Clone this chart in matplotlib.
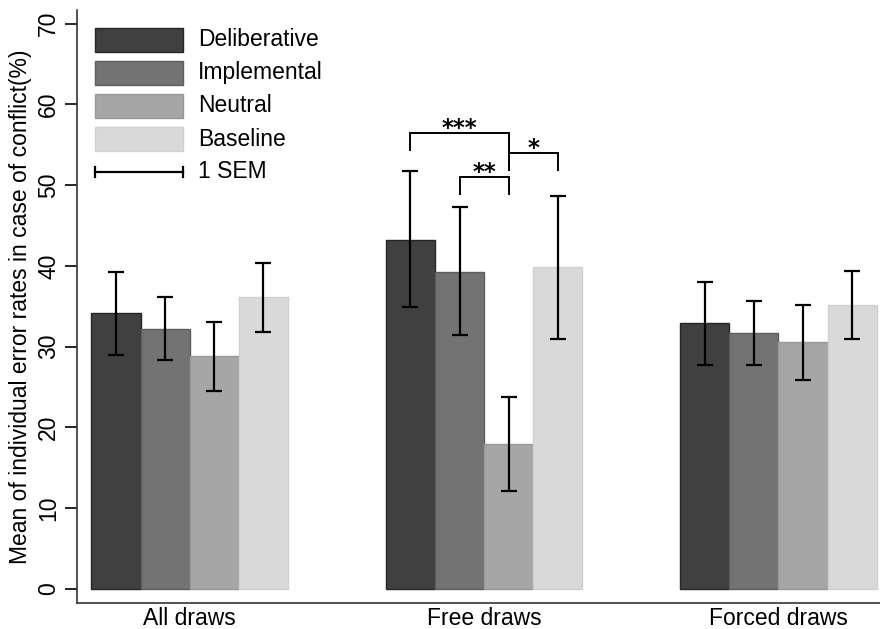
import matplotlib
matplotlib.use("Agg")
import matplotlib.pyplot as plt
from matplotlib.patches import Rectangle
import numpy as np

plt.rcParams["font.family"] = ["Liberation Sans", "DejaVu Sans"]

groups = ["All draws", "Free draws", "Forced draws"]
conditions = ["Deliberative", "Implemental", "Neutral", "Baseline"]
colors = ["#404040", "#737373", "#a6a6a6", "#d9d9d9"]
edges = ["#262626", "#5e5e5e", "#989898", "#d0d0d0"]

# rows = condition, cols = group
means = [
    [34.2, 43.2, 32.9],   # Deliberative
    [32.2, 39.3, 31.7],   # Implemental
    [28.8, 18.0, 30.6],   # Neutral
    [36.1, 39.9, 35.2],   # Baseline
]
err_hi = [
    [39.2, 51.7, 38.0],
    [36.1, 47.3, 35.7],
    [33.1, 23.8, 35.1],
    [40.4, 48.6, 39.4],
]
err_lo = [
    [29.0, 34.9, 27.7],
    [28.3, 31.4, 27.7],
    [24.5, 12.1, 25.9],
    [31.8, 31.0, 31.0],
]

# significance brackets in "Free draws": (bar a, bar b, top, left leg end, right leg end, label)
brackets = [
    (0, 2, 56.5, 54.4, 51.9, "***"),
    (1, 2, 51.0, 48.9, 48.9, "**"),
    (2, 3, 54.0, 51.9, 51.9, "*"),
]

fig = plt.figure(figsize=(8.8, 6.29), dpi=100)
ax = fig.add_axes([77 / 880, 26 / 629, 803 / 880, 593 / 629])

x = np.arange(len(groups))
w = 0.1669
offsets = (np.arange(4) - 1.5) * w
for i, cond in enumerate(conditions):
    m = np.array(means[i])
    ax.bar(x + offsets[i], m, width=w, color=colors[i], edgecolor=edges[i],
           linewidth=1.0, zorder=2)
    yerr = [m - np.array(err_lo[i]), np.array(err_hi[i]) - m]
    ax.errorbar(x + offsets[i], m, yerr=yerr, fmt="none", ecolor="black",
                elinewidth=1.6, capsize=6, capthick=1.6, zorder=3)

# brackets
for a, b, top, la, lb, lab in brackets:
    xa = x[1] + offsets[a]
    xb = x[1] + offsets[b]
    ax.plot([xa, xa, xb, xb], [la, top, top, lb], color="black", lw=1.4,
            solid_joinstyle="miter", zorder=3)
    ax.text((xa + xb) / 2, top - 0.25, lab, ha="center", va="baseline",
            fontsize=16.5, family="DejaVu Sans", fontweight="bold")

ax.set_xlim(-0.383, 2.345)
ax.set_ylim(-1.75, 71.7)
ax.set_yticks(np.arange(0, 71, 10))
ax.set_yticklabels([str(v) for v in range(0, 71, 10)], rotation=90, va="center")
ax.set_xticks(x)
ax.set_xticklabels(groups)
ax.tick_params(axis="x", length=0, labelsize=16.5, pad=3)
ax.tick_params(axis="y", length=9, width=1.2, labelsize=16.5, pad=3)
for s in ["top", "right"]:
    ax.spines[s].set_visible(False)
for s in ["left", "bottom"]:
    ax.spines[s].set_linewidth(1.2)
    ax.spines[s].set_color("#333333")
ax.set_ylabel("Mean of individual error rates in case of conflict(%)",
              fontsize=16.5, labelpad=4)


# legend drawn in figure pixel coords
def fx(px):
    return px / 880


def fy(py):
    return 1 - py / 629


row_tops = [28, 61, 94, 127]
for i, cond in enumerate(conditions):
    t = row_tops[i]
    fig.patches.append(Rectangle((fx(95), fy(t + 24)), fx(183) - fx(95),
                                 fy(t) - fy(t + 24), transform=fig.transFigure,
                                 facecolor=colors[i], edgecolor=edges[i], lw=1.0))
    fig.text(fx(198), fy(t + 12), cond, fontsize=16.5, va="center", ha="left")
sy = 172
fig.add_artist(plt.Line2D([fx(95), fx(183)], [fy(sy), fy(sy)],
                          transform=fig.transFigure, color="black", lw=1.6))
for px in [95, 183]:
    fig.add_artist(plt.Line2D([fx(px), fx(px)], [fy(sy - 5), fy(sy + 5)],
                              transform=fig.transFigure, color="black", lw=1.6))
fig.text(fx(198), fy(sy), "1 SEM", fontsize=16.5, va="center", ha="left")

fig.savefig("out.png", dpi=100)
